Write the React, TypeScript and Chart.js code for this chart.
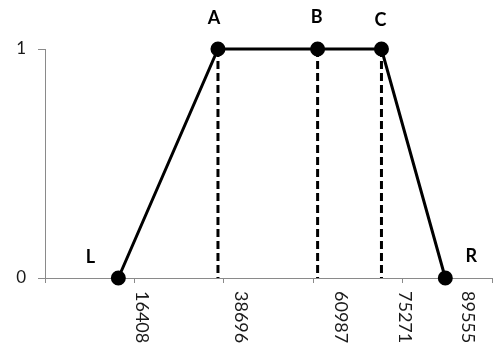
import React, { useEffect, useRef } from "react";
import { Chart, registerables } from "chart.js";

Chart.register(...registerables);

// Trapezoidal membership function: corner points and their names
const pointNames = ["L", "A", "B", "C", "R"];
const pointX = [16408, 38696, 60987, 75271, 89555];
const pointY = [0, 1, 1, 1, 0];

// Value labels printed under the x axis
const xLabelValues = [16408, 38696, 60987, 75271, 89555];

// Axis ranges and tick steps
const xMin = 0;
const xMax = 100000;
const xStep = 20000;
const yMin = 0;
const yMax = 1;
const yStep = 1;

const FONT = "Lato, 'Open Sans', sans-serif";

// name label offsets relative to each point (px)
const nameOffsets: Record<string, [number, number]> = {
  L: [-28, -21],
  A: [-4, -31],
  B: [-1, -32],
  C: [-1, -29],
  R: [26, -22],
};

const overlayPlugin = {
  id: "trapezoidLabels",
  afterDatasetsDraw(chart: any) {
    const ctx = chart.ctx;
    const xs = chart.scales.x;
    const area = chart.chartArea;
    ctx.save();

    // rotated value labels beneath the axis
    ctx.fillStyle = "#1a1a1a";
    ctx.font = `18px ${FONT}`;
    ctx.textAlign = "left";
    ctx.textBaseline = "middle";
    xLabelValues.forEach((v) => {
      const px = xs.getPixelForValue(v) + 23;
      const py = area.bottom + 13;
      ctx.save();
      ctx.translate(px, py);
      ctx.rotate(Math.PI / 2);
      ctx.fillText(String(v), 0, 0);
      ctx.restore();
    });

    // point names
    const meta = chart.getDatasetMeta(0);
    ctx.fillStyle = "#000";
    ctx.font = `bold 18px ${FONT}`;
    ctx.textAlign = "center";
    ctx.textBaseline = "middle";
    meta.data.forEach((el: any, i: number) => {
      const name = pointNames[i];
      const [dx, dy] = nameOffsets[name] || [0, -30];
      ctx.fillText(name, el.x + dx, el.y + dy);
    });
    ctx.restore();
  },
};

export default function App() {
  const canvasRef = useRef<HTMLCanvasElement | null>(null);

  useEffect(() => {
    if (!canvasRef.current) return;

    const mainData = pointX.map((x, i) => ({ x, y: pointY[i] }));
    const dropLines = pointX
      .map((x, i) => ({ x, y: pointY[i] }))
      .filter((p) => p.y === yMax)
      .map((p) => ({
        type: "scatter" as const,
        data: [
          { x: p.x, y: p.y },
          { x: p.x, y: yMin },
        ],
        showLine: true,
        borderColor: "#000",
        borderWidth: 3,
        borderDash: [8, 4],
        pointRadius: 0,
        order: 1,
        clip: false as const,
      }));

    const chart = new Chart(canvasRef.current, {
      type: "scatter",
      data: {
        datasets: [
          {
            data: mainData,
            showLine: true,
            borderColor: "#000",
            borderWidth: 3,
            backgroundColor: "#000",
            pointBackgroundColor: "#000",
            pointBorderColor: "#000",
            pointRadius: 6,
            tension: 0,
            order: 0,
            clip: false,
          },
          ...dropLines,
        ] as any,
      },
      options: {
        animation: false,
        responsive: true,
        maintainAspectRatio: false,
        layout: {
          autoPadding: false,
          padding: { top: 49, right: 1, left: 0, bottom: 0 },
        },
        plugins: {
          legend: { display: false },
          tooltip: { enabled: false },
        },
        scales: {
          x: {
            type: "linear",
            min: xMin,
            max: xMax,
            ticks: { stepSize: xStep, display: false },
            grid: {
              display: true,
              drawOnChartArea: false,
              drawTicks: true,
              tickLength: 5,
              color: "#8a8a8a",
              lineWidth: 1,
            },
            border: { display: true, color: "#8a8a8a", width: 1 },
            afterFit: (s: any) => {
              s.height = 77;
            },
          },
          y: {
            type: "linear",
            min: yMin,
            max: yMax,
            ticks: {
              stepSize: yStep,
              color: "#1a1a1a",
              font: { family: FONT, size: 17 },
              padding: 12,
            },
            grid: {
              display: true,
              drawOnChartArea: false,
              drawTicks: true,
              tickLength: 7,
              color: "#8a8a8a",
              lineWidth: 1,
            },
            border: { display: true, color: "#8a8a8a", width: 1 },
            afterFit: (s: any) => {
              s.width = 45;
            },
          },
        },
      },
      plugins: [overlayPlugin],
    });

    return () => chart.destroy();
  }, []);

  return (
    <div
      style={{
        position: "absolute",
        left: 0,
        top: 0,
        width: 493,
        height: 355,
        background: "#fff",
      }}
    >
      <canvas ref={canvasRef} />
    </div>
  );
}
